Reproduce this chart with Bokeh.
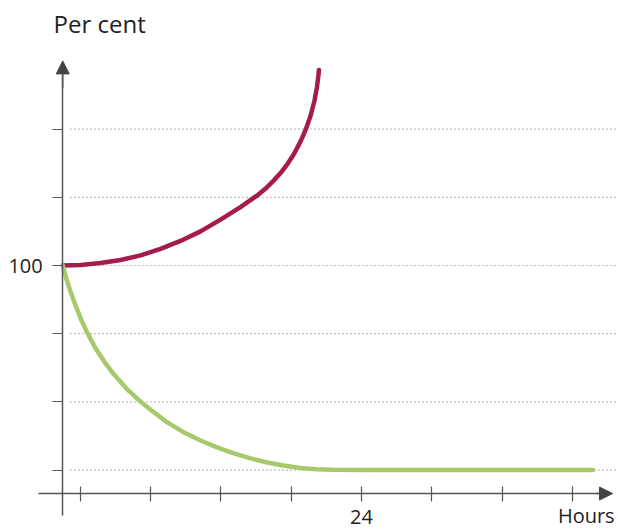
from bokeh.plotting import figure
from bokeh.models import Range1d, LinearAxis, FixedTicker, Label, Arrow, NormalHead
from bokeh.embed import file_html
from bokeh.resources import INLINE

# ---- data ----
rising_hours = [-1.5, 0.02, 1.72, 3.43, 5.14, 6.85, 8.55, 10.26, 11.97, 13.67, 15.10,
                15.81, 16.52, 17.09, 17.66, 18.22, 18.79, 19.22, 19.65, 19.99, 20.20,
                20.33, 20.36]
rising_pct = [100, 100.2, 100.9, 102.0, 103.7, 106.1, 109.0, 112.5, 116.8, 121.4, 125.7,
              128.2, 131.2, 133.9, 137.1, 140.8, 145.4, 149.6, 154.9, 160.5, 165.5,
              169.9, 171.7]

falling_hours = [-1.5, -1.18, -0.84, -0.41, 0.10, 0.62, 1.30, 2.07, 2.88, 3.94, 5.14,
                 6.00, 7.42, 8.81, 10.26, 11.62, 13.10, 14.53, 15.95, 17.34, 18.79,
                 20.16, 21.61, 24.0, 43.75]
falling_pct = [100, 95.0, 90.5, 85.4, 79.9, 75.1, 69.7, 64.6, 60.0, 54.9, 50.1,
               47.1, 42.5, 38.9, 35.85, 33.4, 31.1, 29.3, 27.8, 26.7, 25.8,
               25.3, 25.1, 25.0, 25.0]

x_ticks = [0, 6, 12, 18, 24, 30, 36, 42]
x_labelled = [24]
y_ticks = [25, 50, 75, 100, 125, 150]
y_labelled = [100]

title_text = "Per cent"
x_title = "Hours"

# ---- layout constants ----
X0, X1 = -6.81, 45.93
Y0, Y1 = 2.86, 197.14
Y_AXIS_AT = -1.5      # hours where the vertical axis stands
X_AXIS_AT = 16.4      # per cent where the horizontal axis stands
AXIS_COLOR = "#555555"
HEAD_COLOR = "#444444"
TEXT_COLOR = "#222222"
FONT = "Open Sans"

p = figure(width=618, height=530, output_backend="svg", toolbar_location=None,
           x_range=Range1d(X0, X1), y_range=Range1d(Y0, Y1),
           x_axis_type=None, y_axis_type=None,
           min_border=0, min_border_left=0, min_border_right=0,
           min_border_top=0, min_border_bottom=0)
p.outline_line_color = None
p.background_fill_color = "white"
p.border_fill_color = "white"

# dotted horizontal guide lines
p.segment(x0=-0.84, y0=y_ticks, x1=X1, y1=y_ticks,
          line_color="#808080", line_width=1.2, line_dash="1 3")

# curves
p.line(rising_hours, rising_pct, line_color="#a61b4e", line_width=4.5,
       line_cap="round", line_join="round")
p.line(falling_hours, falling_pct, line_color="#a8c96b", line_width=4.5,
       line_cap="round", line_join="round")

# vertical axis
yaxis = LinearAxis(fixed_location=Y_AXIS_AT, bounds=(8.36, 170),
                   ticker=FixedTicker(ticks=y_ticks),
                   major_label_overrides={t: (str(t) if t in y_labelled else "") for t in y_ticks})
yaxis.axis_line_color = AXIS_COLOR
yaxis.axis_line_width = 1.5
yaxis.major_tick_line_color = AXIS_COLOR
yaxis.major_tick_line_width = 1.2
yaxis.major_tick_in = 0
yaxis.major_tick_out = 10
yaxis.minor_tick_in = 0
yaxis.minor_tick_out = 0
yaxis.major_label_standoff = 10
yaxis.major_label_text_font = FONT
yaxis.major_label_text_font_size = "20px"
yaxis.major_label_text_color = TEXT_COLOR
p.add_layout(yaxis, "left")

# horizontal axis
xaxis = LinearAxis(fixed_location=X_AXIS_AT, bounds=(-3.57, 44.5),
                   ticker=FixedTicker(ticks=x_ticks),
                   major_label_overrides={t: (str(t) if t in x_labelled else "") for t in x_ticks})
xaxis.axis_line_color = AXIS_COLOR
xaxis.axis_line_width = 1.5
xaxis.major_tick_line_color = AXIS_COLOR
xaxis.major_tick_line_width = 1.2
xaxis.major_tick_in = 7
xaxis.major_tick_out = 8
xaxis.minor_tick_in = 0
xaxis.minor_tick_out = 0
xaxis.major_label_standoff = 8
xaxis.major_label_text_font = FONT
xaxis.major_label_text_font_size = "20px"
xaxis.major_label_text_color = TEXT_COLOR
p.add_layout(xaxis, "below")

# arrow heads
p.add_layout(Arrow(end=NormalHead(size=13, fill_color=HEAD_COLOR, line_color=HEAD_COLOR),
                   x_start=Y_AXIS_AT, y_start=165, x_end=Y_AXIS_AT, y_end=175,
                   line_color=AXIS_COLOR, line_width=1.5))
p.add_layout(Arrow(end=NormalHead(size=13, fill_color=HEAD_COLOR, line_color=HEAD_COLOR),
                   x_start=44.0, y_start=X_AXIS_AT, x_end=45.42, y_end=X_AXIS_AT,
                   line_color=AXIS_COLOR, line_width=1.5))

# texts
p.add_layout(Label(x=-2.28, y=188.7, text=title_text, text_font=FONT,
                   text_font_size="24px", text_color=TEXT_COLOR,
                   text_baseline="alphabetic", text_align="left"))
p.add_layout(Label(x=45.6, y=8.4, text=x_title, text_font=FONT,
                   text_font_size="20px", text_color=TEXT_COLOR,
                   text_baseline="alphabetic", text_align="right"))

open("out.html", "w").write(file_html(p, INLINE))
